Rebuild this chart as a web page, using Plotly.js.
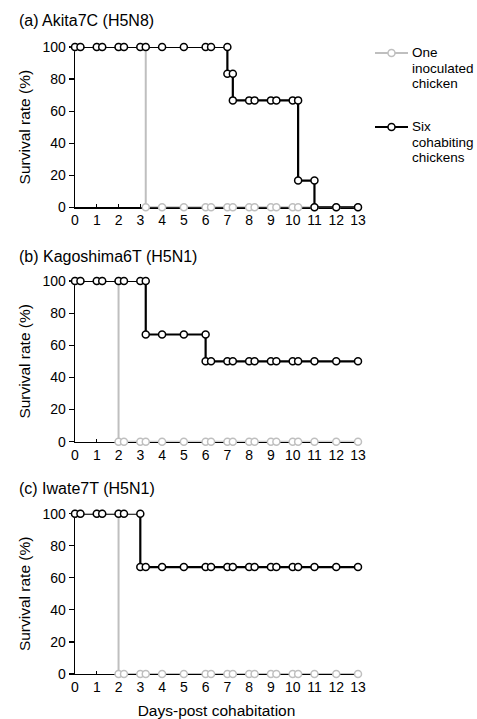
<!DOCTYPE html>
<html>
<head>
<meta charset="utf-8">
<script src="https://cdn.plot.ly/plotly-3.0.1.min.js"></script>
<style>html,body{margin:0;padding:0;background:#fff;}#chart{width:477px;height:719px;}</style>
</head>
<body>
<div id="chart"></div>
<script>
// ---- Data ----
const panelTitles = ["(a) Akita7C (H5N8)", "(b) Kagoshima6T (H5N1)", "(c) Iwate7T (H5N1)"];
const seriesNames = ["One inoculated chicken", "Six cohabiting chickens"];
const xTickVals = [0,1,2,3,4,5,6,7,8,9,10,11,12,13];
const yTickVals = [0,20,40,60,80,100];

// (a) Akita7C
const dayA_inoc  = [0,0.25,1,1.25,2,2.25,3,3.25, 3.25,4,5,6,6.25,7,7.25,8,8.25,9,9.25,10,10.25,11,12,13];
const survA_inoc = [100,100,100,100,100,100,100,100, 0,0,0,0,0,0,0,0,0,0,0,0,0,0,0,0];
const dayA_coh   = [0,0.25,1,1.25,2,2.25,3,3.25,4,5,6,6.25,7, 7,7.25, 7.25,8,8.25,9,9.25,10,10.25, 10.25,11, 11,12,13];
const survA_coh  = [100,100,100,100,100,100,100,100,100,100,100,100,100, 83.3,83.3, 66.7,66.7,66.7,66.7,66.7,66.7,66.7, 16.7,16.7, 0,0,0];

// (b) Kagoshima6T
const dayB_inoc  = [0,0.25,1,1.25,2, 2,2.25,3,3.25,4,5,6,6.25,7,7.25,8,8.25,9,9.25,10,10.25,11,12,13];
const survB_inoc = [100,100,100,100,100, 0,0,0,0,0,0,0,0,0,0,0,0,0,0,0,0,0,0,0];
const dayB_coh   = [0,0.25,1,1.25,2,2.25,3,3.25, 3.25,4,5,6, 6,6.25,7,7.25,8,8.25,9,9.25,10,10.25,11,12,13];
const survB_coh  = [100,100,100,100,100,100,100,100, 66.7,66.7,66.7,66.7, 50,50,50,50,50,50,50,50,50,50,50,50,50];

// (c) Iwate7T
const dayC_inoc  = [0,0.25,1,1.25,2, 2,2.25,3,3.25,4,5,6,6.25,7,7.25,8,8.25,9,9.25,10,10.25,11,12,13];
const survC_inoc = [100,100,100,100,100, 0,0,0,0,0,0,0,0,0,0,0,0,0,0,0,0,0,0,0];
const dayC_coh   = [0,0.25,1,1.25,2,2.25,3, 3,3.25,4,5,6,6.25,7,7.25,8,8.25,9,9.25,10,10.25,11,12,13];
const survC_coh  = [100,100,100,100,100,100,100, 66.7,66.7,66.7,66.7,66.7,66.7,66.7,66.7,66.7,66.7,66.7,66.7,66.7,66.7,66.7,66.7,66.7];

// ---- Styling ----
const W = 477, H = 719;
const FONT = "Liberation Sans, Arial, sans-serif";
const GRAY = "#bfbfbf", BLACK = "#000000";
const px = v => v / W;
const py = v => 1 - v / H;

function series(x, y, color, lw, xa, ya, name) {
  return {
    x: x, y: y, xaxis: xa, yaxis: ya, name: name, type: "scatter",
    mode: "lines+markers", cliponaxis: false, showlegend: false,
    line: {color: color, width: lw},
    marker: {symbol: "circle", size: 7, color: "#ffffff", line: {color: color, width: 1.5}},
    hoverinfo: "skip"
  };
}

const traces = [
  series(dayA_inoc, survA_inoc, GRAY, 2, "x", "y", seriesNames[0]),
  series(dayA_coh, survA_coh, BLACK, 2.2, "x", "y", seriesNames[1]),
  series(dayB_inoc, survB_inoc, GRAY, 2, "x2", "y2", seriesNames[0]),
  series(dayB_coh, survB_coh, BLACK, 2.2, "x2", "y2", seriesNames[1]),
  series(dayC_inoc, survC_inoc, GRAY, 2, "x3", "y3", seriesNames[0]),
  series(dayC_coh, survC_coh, BLACK, 2.2, "x3", "y3", seriesNames[1])
];

const xDomain = [px(75), px(358)];
const yDomains = [
  [py(207.3), py(47)],
  [py(441.7), py(281)],
  [py(674), py(513.7)]
];

function xAxis(anchor, withTitle) {
  const ax = {
    domain: xDomain, anchor: anchor, range: [0, 13], tickvals: xTickVals,
    ticks: "inside", ticklen: 3, tickwidth: 1.2, tickcolor: BLACK,
    showline: true, linecolor: BLACK, linewidth: 1.3, layer: "below traces",
    showgrid: false, zeroline: false, fixedrange: true,
    tickfont: {family: FONT, size: 14, color: BLACK}
  };
  if (withTitle) ax.title = {text: "Days-post cohabitation", font: {family: FONT, size: 15.5, color: BLACK}, standoff: 13};
  return ax;
}
function yAxis(anchor, dom) {
  return {
    domain: dom, anchor: anchor, range: [0, 100], tickvals: yTickVals,
    ticks: "outside", ticklen: 5, tickwidth: 1.2, tickcolor: BLACK,
    showline: true, linecolor: BLACK, linewidth: 1.3, layer: "below traces",
    showgrid: false, zeroline: false, fixedrange: true,
    tickfont: {family: FONT, size: 14, color: BLACK},
    title: {text: "Survival rate (%)", font: {family: FONT, size: 15.5, color: BLACK}, standoff: 8}
  };
}

const annFont = {family: FONT, size: 16, color: BLACK};
const legFont = {family: FONT, size: 13.5, color: BLACK};
const annotations = [
  {text: panelTitles[0], x: px(17), y: py(20), xref: "paper", yref: "paper", xanchor: "left", yanchor: "middle", showarrow: false, font: annFont},
  {text: panelTitles[1], x: px(17), y: py(256.7), xref: "paper", yref: "paper", xanchor: "left", yanchor: "middle", showarrow: false, font: annFont},
  {text: panelTitles[2], x: px(17), y: py(489), xref: "paper", yref: "paper", xanchor: "left", yanchor: "middle", showarrow: false, font: annFont}
];
const legendLines = [
  ["One", 53], ["inoculated", 68], ["chicken", 83],
  ["Six", 127], ["cohabiting", 142], ["chickens", 157]
];
legendLines.forEach(([t, yy]) => annotations.push({
  text: t, x: px(410), y: py(yy), xref: "paper", yref: "paper", xanchor: "left", yanchor: "middle",
  showarrow: false, font: legFont
}));

const shapes = [];
[[GRAY, 53, 2], [BLACK, 127, 2.2]].forEach(([c, yy, lw]) => {
  shapes.push({type: "line", xref: "paper", yref: "paper", x0: px(375), x1: px(408), y0: py(yy), y1: py(yy), line: {color: c, width: lw}});
  shapes.push({type: "circle", xref: "paper", yref: "paper", xsizemode: "pixel", ysizemode: "pixel",
    xanchor: px(391.5), yanchor: py(yy), x0: -3.5, x1: 3.5, y0: -3.5, y1: 3.5,
    fillcolor: "#ffffff", line: {color: c, width: 1.5}});
});

const layout = {
  width: W, height: H, margin: {l: 0, r: 0, t: 0, b: 0},
  paper_bgcolor: "#ffffff", plot_bgcolor: "#ffffff",
  showlegend: false,
  font: {family: FONT, color: BLACK},
  xaxis: xAxis("y", false),
  xaxis2: xAxis("y2", false),
  xaxis3: xAxis("y3", true),
  yaxis: yAxis("x", yDomains[0]),
  yaxis2: yAxis("x2", yDomains[1]),
  yaxis3: yAxis("x3", yDomains[2]),
  annotations: annotations,
  shapes: shapes
};

Plotly.newPlot("chart", traces, layout, {displayModeBar: false, staticPlot: true});
</script>
</body>
</html>
